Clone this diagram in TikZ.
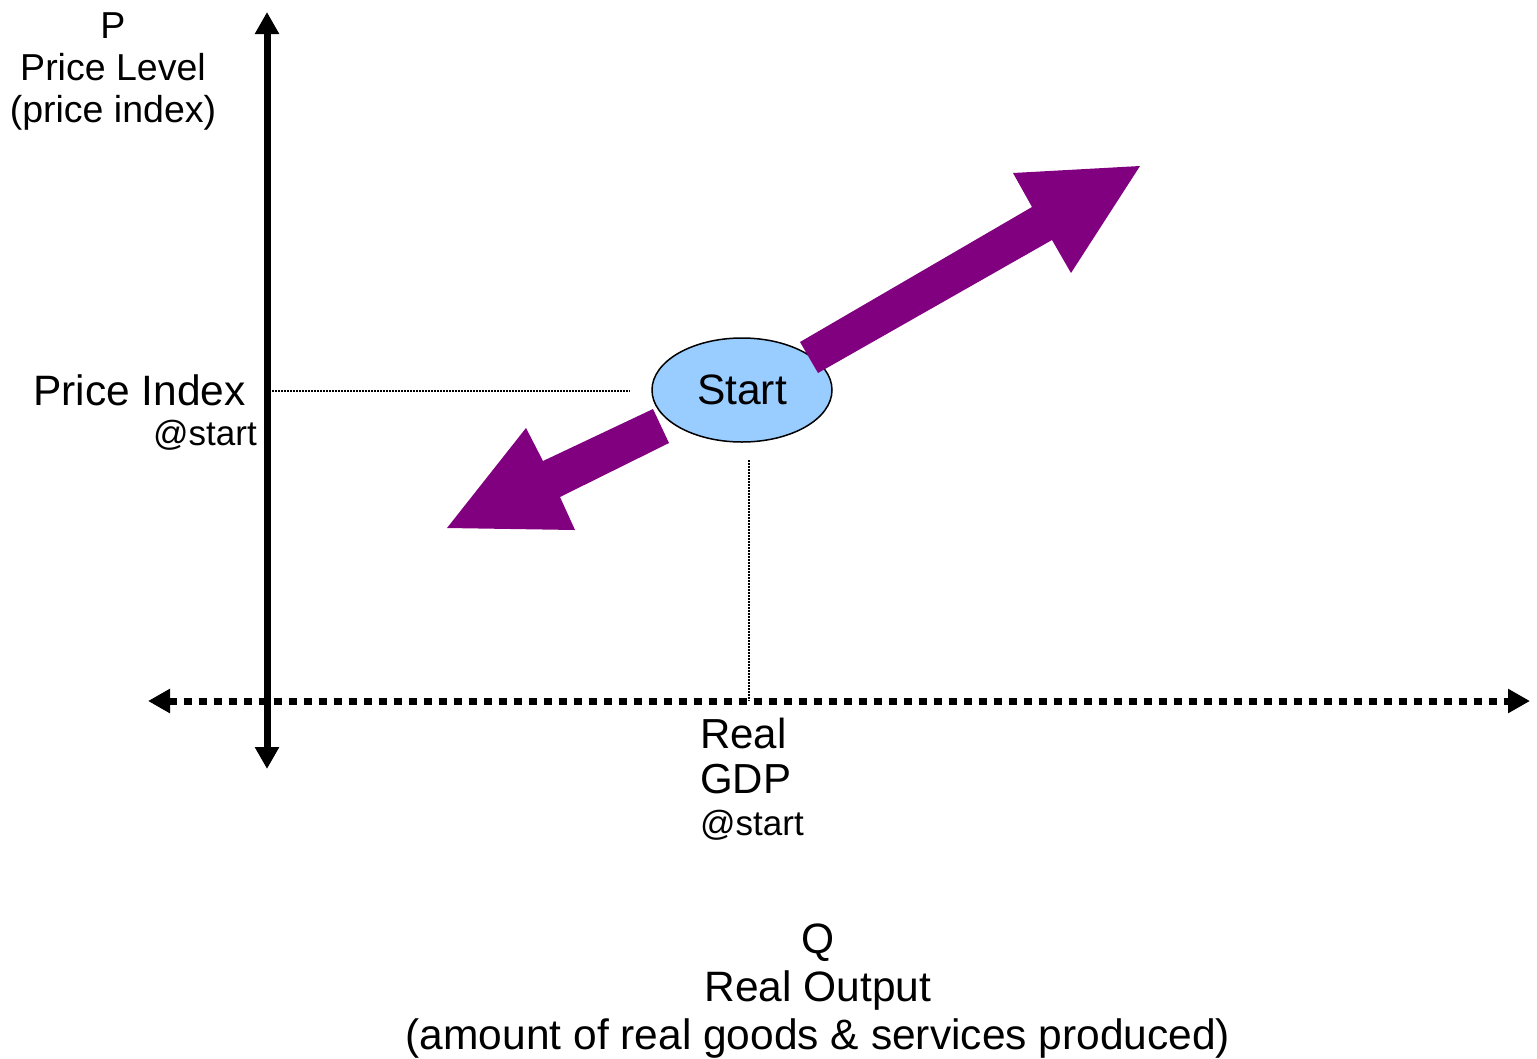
\documentclass[tikz,border=0pt]{standalone}
\usepackage{fontspec}
\setmainfont{Liberation Sans}
\usepackage{xcolor}
\usetikzlibrary{arrows.meta,shapes.geometric}
\definecolor{startblue}{HTML}{99CCFF}
\definecolor{movepurple}{HTML}{800080}

\begin{document}
\begin{tikzpicture}[x=1pt,y=-1pt,
  axisline/.style={line width=7pt, color=black, {Triangle[length=22pt,width=23pt]}-{Triangle[length=22pt,width=23pt]}},
  guideline/.style={line width=1.4pt, dash pattern=on 2pt off 1pt},
  bigarrow/.style={fill=movepurple},
  bigtext/.style={inner sep=0pt, font=\fontsize{42.5}{49}\selectfont},
  smalltext/.style={inner sep=0pt, font=\fontsize{35}{42}\selectfont}]
  \useasboundingbox (0,0) rectangle (1537,1058);
  \coordinate (ptop) at (267,12);
  \coordinate (pbot) at (267,769);
  \coordinate (qleft) at (148,701);
  \coordinate (qright) at (1530,701);
  \draw[axisline] (pbot) -- (ptop); % price axis
  \draw[axisline, dash pattern=on 8pt off 7pt] (qleft) -- (qright); % output axis
  \node[ellipse, draw, line width=1.5pt, fill=startblue, minimum width=180pt, minimum height=104pt, bigtext] (start) at (742,390) {Start};
  \coordinate (pguide) at (272,391);
  \coordinate (pguideend) at (630,391);
  \coordinate (qguide) at (749,460);
  \coordinate (qguideend) at (749,701);
  \draw[guideline] (pguide) -- (pguideend); % price at start
  \draw[guideline] (qguide) -- (qguideend); % gdp at start
  \fill[bigarrow] (800,342) -- (1032,207) -- (1013,173) -- (1140,166) -- (1071,273) -- (1052,240) -- (818,373) -- cycle; % up
  \fill[bigarrow] (653,409) -- (543,461) -- (526,428) -- (447,528) -- (575,530) -- (560,497) -- (669,443) -- cycle; % down
  \node[align=center, anchor=north, inner sep=0pt, font=\fontsize{37.5}{42}\selectfont] (plabel) at (113,12) {P\\Price Level\\(price index)};
  \node[bigtext, anchor=base west] (pindex) at (33,405) {Price Index};
  \node[smalltext, anchor=base east] (pstart) at (257,445) {@start};
  \node[align=left, anchor=north west, inner sep=0pt, font=\fontsize{42}{45}\selectfont] (qstart) at (700,718) {Real\\GDP\\[-3pt]{\fontsize{35}{42}\selectfont @start}};
  \node[align=center, anchor=north, inner sep=0pt, font=\fontsize{42.5}{48}\selectfont] (qlabel) at (818,924) {Q\\Real Output\\(amount of real goods \& services produced)};
\end{tikzpicture}
\end{document}
